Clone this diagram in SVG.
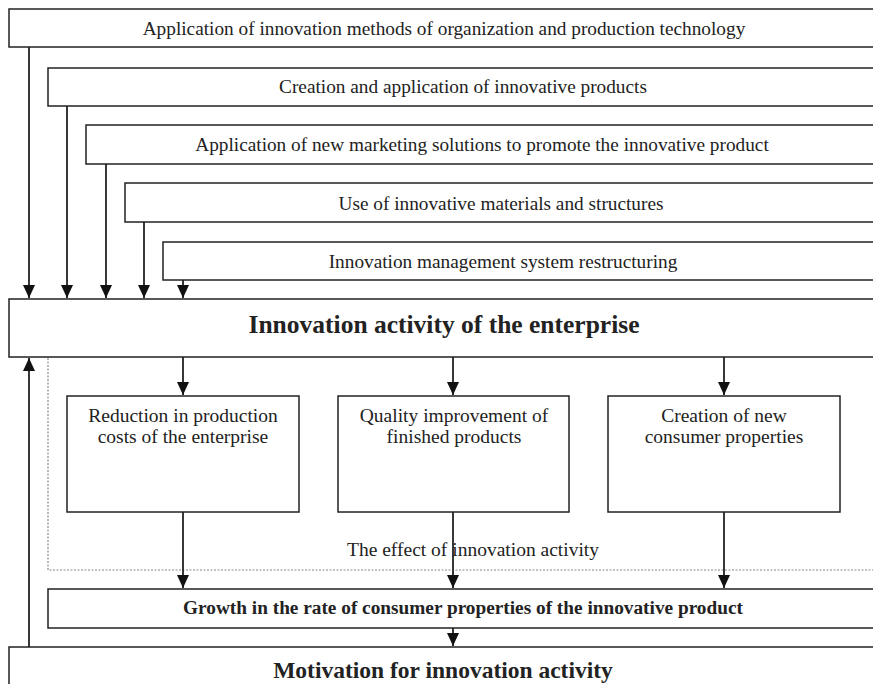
<svg xmlns="http://www.w3.org/2000/svg" width="873" height="684" viewBox="0 0 873 684">
  <style>
    .box { fill: #fff; stroke: #222; stroke-width: 1.5; }
    .t { font-family: "Liberation Serif", "Times New Roman", serif; fill: #222; text-anchor: middle; }
    .s { font-size: 19.3px; }
    .sub { font-size: 19.5px; }
    .big { font-size: 25.5px; font-weight: bold; }
    .mot { font-size: 23.5px; font-weight: bold; }
    .mid { font-size: 19.3px; font-weight: bold; }
    .line { stroke: #222; stroke-width: 1.8; fill: none; }
    .dots { stroke: #888; stroke-width: 1.2; stroke-dasharray: 2 1.5; fill: none; }
  </style>
  <defs>
    <marker id="ah" markerUnits="userSpaceOnUse" markerWidth="14" markerHeight="14" viewBox="0 0 14 14" refX="13" refY="7" orient="auto">
      <path d="M0,1 L13,7 L0,13 Z" fill="#111"/>
    </marker>
  </defs>
  <rect width="873" height="684" fill="#fff"/>

  <!-- effect region outline -->
  <path class="dots" d="M48 358 V570 H880"/>

  <g id="n1"><rect class="box" x="9" y="9" width="880" height="38"/>
    <text class="t s" x="444" y="35">Application of innovation methods of organization and production technology</text></g>
  <g id="n2"><rect class="box" x="48" y="68" width="840" height="38"/>
    <text class="t s" x="463" y="93">Creation and application of innovative products</text></g>
  <g id="n3"><rect class="box" x="86" y="125" width="800" height="39"/>
    <text class="t s" x="482" y="151">Application of new marketing solutions to promote the innovative product</text></g>
  <g id="n4"><rect class="box" x="125" y="183" width="760" height="39"/>
    <text class="t s" x="501" y="210">Use of innovative materials and structures</text></g>
  <g id="n5"><rect class="box" x="163" y="242" width="720" height="38"/>
    <text class="t s" x="503" y="268">Innovation management system restructuring</text></g>

  <g id="main"><rect class="box" x="9" y="299" width="880" height="58"/>
    <text class="t big" x="444" y="333">Innovation activity of the enterprise</text></g>

  <g id="a"><rect class="box" x="67" y="396" width="232" height="116"/>
    <text class="t sub" x="183" y="422">Reduction in production</text>
    <text class="t sub" x="183" y="443">costs of the enterprise</text></g>
  <g id="b"><rect class="box" x="338" y="396" width="231" height="116"/>
    <text class="t sub" x="454" y="422">Quality improvement of</text>
    <text class="t sub" x="454" y="443">finished products</text></g>
  <g id="c"><rect class="box" x="608" y="396" width="232" height="116"/>
    <text class="t sub" x="724" y="422">Creation of new</text>
    <text class="t sub" x="724" y="443">consumer properties</text></g>

  <g id="effect-label"><text class="t sub" x="473" y="556">The effect of innovation activity</text></g>

  <g id="growth"><rect class="box" x="48" y="589" width="840" height="39"/>
    <text class="t mid" x="463" y="614">Growth in the rate of consumer properties of the innovative product</text></g>

  <g id="motivation"><rect class="box" x="9" y="647" width="880" height="60"/>
    <text class="t mot" x="443" y="678">Motivation for innovation activity</text></g>

  <g id="connectors">
    <line class="line" x1="29" y1="47" x2="29" y2="298" marker-end="url(#ah)"/>
    <line class="line" x1="67" y1="106" x2="67" y2="298" marker-end="url(#ah)"/>
    <line class="line" x1="106" y1="164" x2="106" y2="298" marker-end="url(#ah)"/>
    <line class="line" x1="144" y1="222" x2="144" y2="298" marker-end="url(#ah)"/>
    <line class="line" x1="183" y1="280" x2="183" y2="298" marker-end="url(#ah)"/>

    <line class="line" x1="183" y1="357" x2="183" y2="395" marker-end="url(#ah)"/>
    <line class="line" x1="453" y1="357" x2="453" y2="395" marker-end="url(#ah)"/>
    <line class="line" x1="724" y1="357" x2="724" y2="395" marker-end="url(#ah)"/>

    <line class="line" x1="183" y1="512" x2="183" y2="588" marker-end="url(#ah)"/>
    <line class="line" x1="453" y1="512" x2="453" y2="588" marker-end="url(#ah)"/>
    <line class="line" x1="724" y1="512" x2="724" y2="588" marker-end="url(#ah)"/>

    <line class="line" x1="453" y1="628" x2="453" y2="646" marker-end="url(#ah)"/>
    <line class="line" x1="29" y1="647" x2="29" y2="358" marker-end="url(#ah)"/>
  </g>
</svg>
